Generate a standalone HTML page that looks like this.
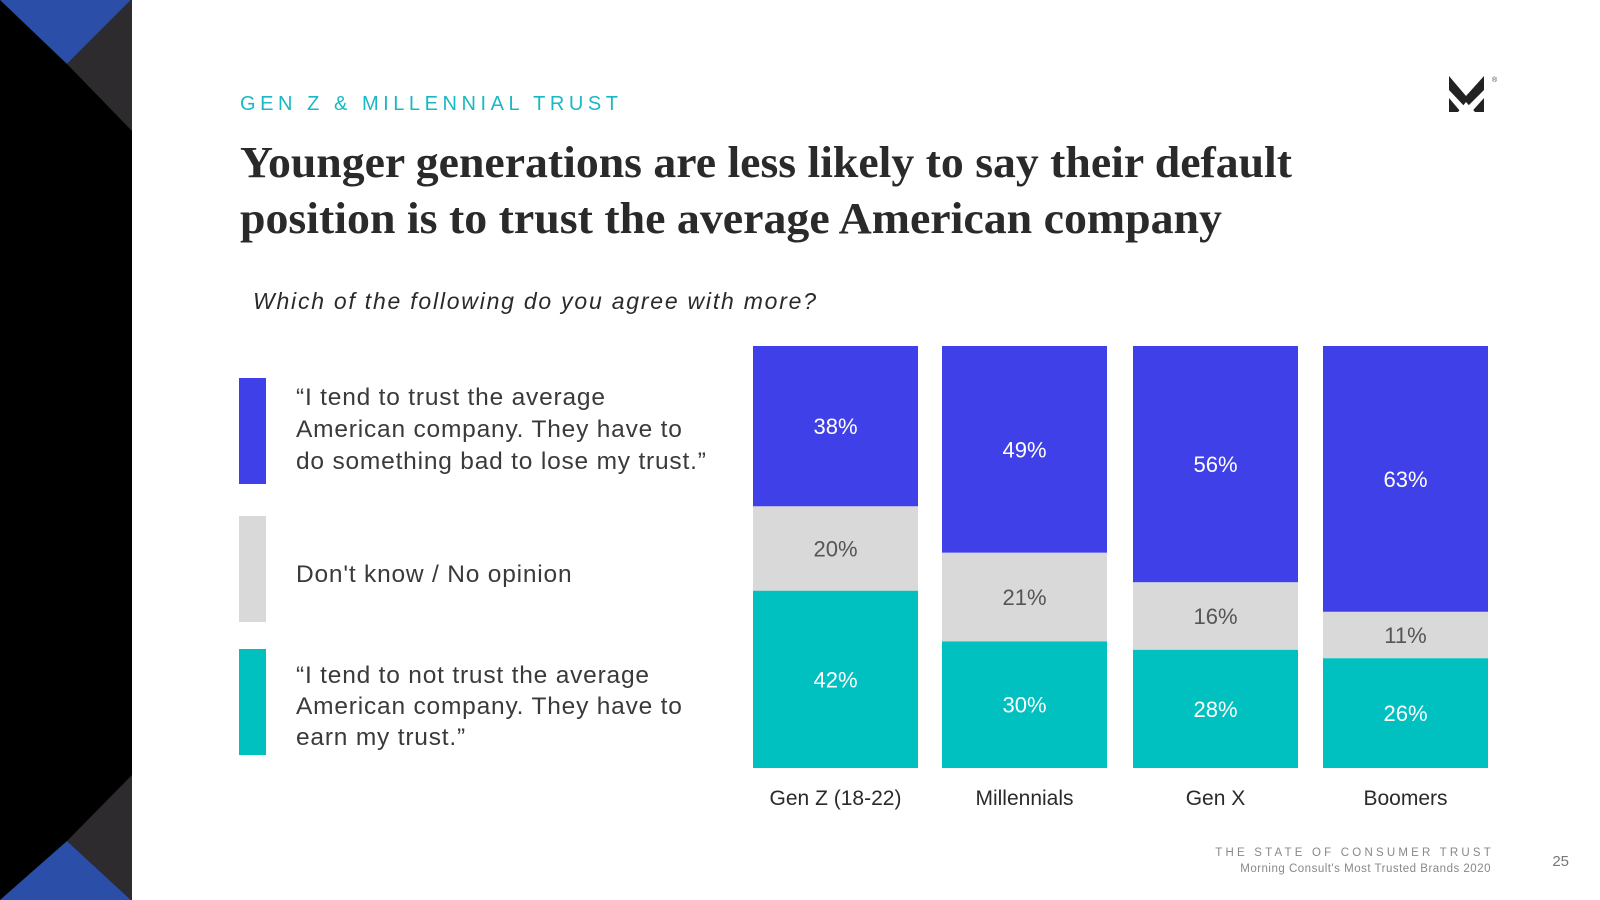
<!DOCTYPE html>
<html><head><meta charset="utf-8"><style>
html,body{margin:0;padding:0;background:#fff;}
svg{display:block;}
</style></head><body>
<svg id="chart" width="1600" height="900" viewBox="0 0 1600 900" xmlns="http://www.w3.org/2000/svg">
<rect x="0" y="0" width="132" height="900" fill="#000"/>
<polygon points="0,0 131,0 67,64" fill="#2b4fa8"/>
<polygon points="67,64 131,0 132,0 132,131" fill="#2d2b2e"/>
<polygon points="0,900 131,900 67,841" fill="#2b4fa8"/>
<polygon points="67,841 131,900 132,900 132,775" fill="#2d2b2e"/>

<text x="240" y="110" font-family="Liberation Sans, sans-serif" font-size="20" fill="#1ab8c4" textLength="378" lengthAdjust="spacing">GEN Z &amp; MILLENNIAL TRUST</text>
<text x="240" y="177" font-family="Liberation Serif, serif" font-weight="bold" font-size="44" fill="#2a2a2a" textLength="1052" lengthAdjust="spacingAndGlyphs">Younger generations are less likely to say their default</text>
<text x="240" y="233" font-family="Liberation Serif, serif" font-weight="bold" font-size="44" fill="#2a2a2a" textLength="982" lengthAdjust="spacingAndGlyphs">position is to trust the average American company</text>
<text x="253" y="309" font-family="Liberation Sans, sans-serif" font-style="italic" font-size="23" fill="#2a2a2a" textLength="563">Which of the following do you agree with more?</text>

<g>
<polygon points="1449,76 1466,96 1484,76 1484,112 1475,112 1466,102 1458,112 1449,112" fill="#222"/>
<polygon points="1449,90 1466,108 1484,90 1484,98 1466,118 1449,98" fill="#fff"/>
<text x="1492" y="82" font-family="Liberation Sans, sans-serif" font-size="7" fill="#444">®</text>
</g>

<g id="legend" font-family="Liberation Sans, sans-serif" font-size="24.5" fill="#3a3a3a" letter-spacing="0.8">
<rect x="239" y="378" width="27" height="106" fill="#4040e8"/>
<text>
<tspan x="296" y="405">“I tend to trust the average</tspan>
<tspan x="296" y="437">American company. They have to</tspan>
<tspan x="296" y="469">do something bad to lose my trust.”</tspan></text>
<rect x="239" y="516" width="27" height="106" fill="#d9d9d9"/>
<text x="296" y="582">Don't know / No opinion</text>
<rect x="239" y="649" width="27" height="106" fill="#00c0c0"/>
<text>
<tspan x="296" y="683">“I tend to not trust the average</tspan>
<tspan x="296" y="714">American company. They have to</tspan>
<tspan x="296" y="745">earn my trust.”</tspan></text>
</g>

<g id="bars"></g>

<text x="1494" y="856" text-anchor="end" font-family="Liberation Sans, sans-serif" font-size="11.5" fill="#888" letter-spacing="3.2">THE STATE OF CONSUMER TRUST</text>
<text x="1491" y="872" text-anchor="end" font-family="Liberation Sans, sans-serif" font-size="11.5" fill="#888" letter-spacing="0.5">Morning Consult's Most Trusted Brands 2020</text>
<text x="1569" y="866" text-anchor="end" font-family="Liberation Sans, sans-serif" font-size="15" fill="#777">25</text>
</svg>
<script>
const categories = ["Gen Z (18-22)", "Millennials", "Gen X", "Boomers"];
const trustValues = [38, 49, 56, 63];
const dontKnowValues = [20, 21, 16, 11];
const notTrustValues = [42, 30, 28, 26];

const NS = "http://www.w3.org/2000/svg";
const g = document.getElementById("bars");
const plotTop = 346, plotBottom = 768;
const barLefts = [753, 942, 1133, 1323];
const barW = 165;
function yScale(v){ return plotTop + (v/100)*(plotBottom-plotTop); }
function xBand(i){ return barLefts[i]; }
const series = [
  {vals: trustValues, fill: "#4040e8", text: "#fff", key: "trust"},
  {vals: dontKnowValues, fill: "#d9d9d9", text: "#555", key: "dont-know"},
  {vals: notTrustValues, fill: "#00c0c0", text: "#fff", key: "not-trust"}
];
categories.forEach((cat, i) => {
  let cum = 0;
  const total = trustValues[i] + dontKnowValues[i] + notTrustValues[i];
  series.forEach(s => {
    const v = s.vals[i] * 100 / total;
    const y0 = yScale(cum), y1 = yScale(cum + v);
    cum += v;
    const r = document.createElementNS(NS, "rect");
    r.setAttribute("x", xBand(i));
    r.setAttribute("y", y0);
    r.setAttribute("width", barW);
    r.setAttribute("height", y1 - y0);
    r.setAttribute("fill", s.fill);
    
    
    g.appendChild(r);
    const t = document.createElementNS(NS, "text");
    t.setAttribute("x", xBand(i) + barW/2);
    t.setAttribute("y", (y0 + y1)/2 + 8);
    t.setAttribute("text-anchor", "middle");
    t.setAttribute("font-family", "Liberation Sans, sans-serif");
    t.setAttribute("font-size", "22");
    t.setAttribute("fill", s.text);
    t.textContent = s.vals[i] + "%";
    
    
    g.appendChild(t);
  });
  const c = document.createElementNS(NS, "text");
  c.setAttribute("x", xBand(i) + barW/2);
  c.setAttribute("y", 805);
  c.setAttribute("text-anchor", "middle");
  c.setAttribute("font-family", "Liberation Sans, sans-serif");
  c.setAttribute("font-size", "21");
  c.setAttribute("fill", "#2a2a2a");
  c.textContent = cat;
  
  
  g.appendChild(c);
});
</script>
</body></html>
